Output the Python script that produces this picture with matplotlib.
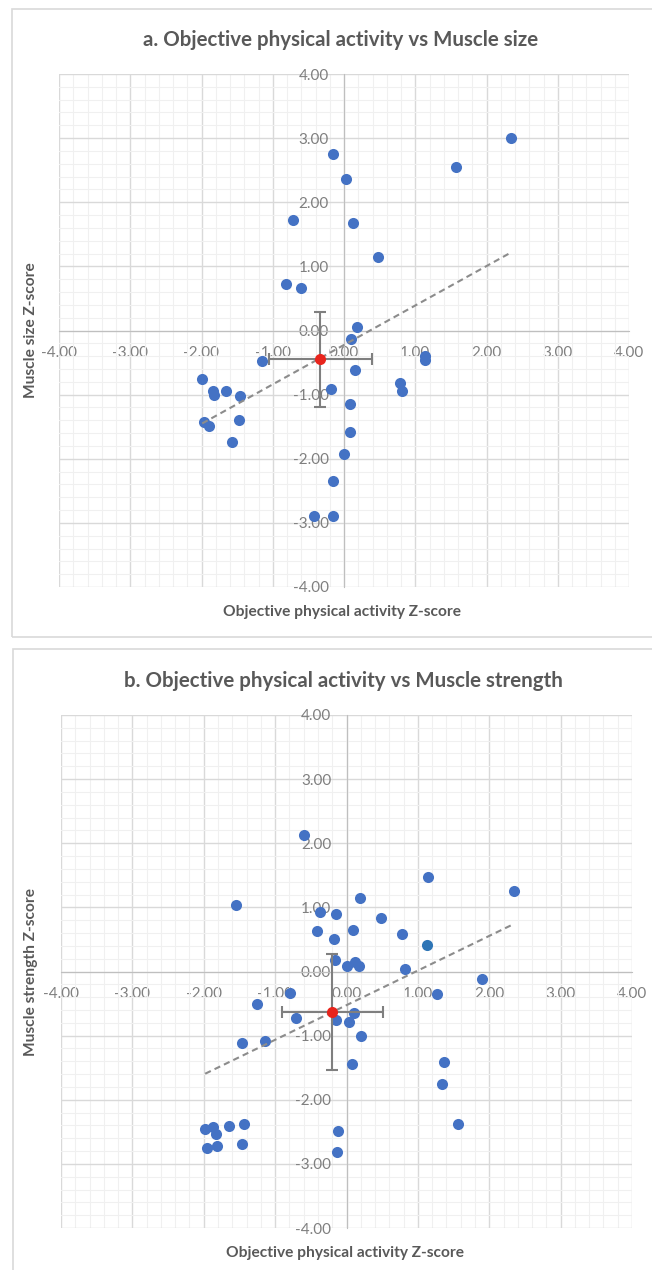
import matplotlib
matplotlib.use("Agg")
import matplotlib.pyplot as plt
from matplotlib.patches import Rectangle
from matplotlib.ticker import MultipleLocator, FormatStrFormatter
import numpy as np

plt.rcParams['font.family'] = ['Lato', 'DejaVu Sans']

# panel a: physical activity vs muscle size
pa_x_a = [2.35, 1.57, -0.16, 0.03, -0.72, 0.12, 0.48, -0.81, -0.61, 0.18, 0.10,
          -1.15, 1.13, 1.13, 0.16, -1.99, 0.79, 0.82, -0.18, -1.84, -1.82, -1.65,
          -1.46, 0.08, -1.96, -1.89, -1.48, -1.57, 0.08, 0.00, -0.16, -0.42, -0.16]
size_y_a = [3.00, 2.55, 2.76, 2.37, 1.72, 1.68, 1.15, 0.72, 0.67, 0.06, -0.13,
            -0.47, -0.40, -0.46, -0.61, -0.75, -0.82, -0.95, -0.91, -0.95, -1.01, -0.94,
            -1.02, -1.15, -1.43, -1.49, -1.39, -1.74, -1.59, -1.92, -2.34, -2.90, -2.90]
mean_a = (-0.33, -0.45)
err_a = (0.72, 0.745)        # x error, y error
trend_a = (0.615, -0.225)    # slope, intercept

# panel b: physical activity vs muscle strength
pa_x_b = [1.14, 2.34, 0.19, -1.55, -0.37, -0.15, 0.48, -0.42, 0.09, 0.78, -0.17,
          -0.16, 0.12, 0.00, 0.17, 0.82, 1.90, -0.79, 1.27, -1.26, 0.10, -0.71,
          -0.15, 0.04, 0.21, -1.47, -1.14, 0.08, 1.36, 1.34, 1.56, -1.98, -1.87,
          -1.83, -1.64, -1.44, -1.47, -1.95, -1.81, -0.12, -0.13, -0.60]
str_y_b = [1.47, 1.26, 1.15, 1.03, 0.93, 0.89, 0.84, 0.63, 0.65, 0.58, 0.50,
           0.18, 0.15, 0.09, 0.09, 0.04, -0.12, -0.34, -0.35, -0.51, -0.64, -0.72,
           -0.75, -0.78, -1.01, -1.11, -1.09, -1.44, -1.41, -1.76, -2.38, -2.46, -2.42,
           -2.54, -2.41, -2.38, -2.69, -2.76, -2.72, -2.48, -2.81, 2.13]
highlight_b = (1.13, 0.42)
mean_b = (-0.20, -0.63)
err_b = (0.71, 0.91)
trend_b = (0.54, -0.525)

BLUE = '#4472C4'
GREY_TXT = '#595959'


def draw_panel(fig, rect, box, title, ylabel, xs, ys, mean, err, trend, extra=None):
    fig.patches.append(Rectangle(box[:2], box[2], box[3], transform=fig.transFigure,
                                 fill=False, edgecolor='#D9D9D9', lw=1.2))
    ax = fig.add_axes(rect)
    ax.set_xlim(-4, 4)
    ax.set_ylim(-4, 4)
    ax.set_axisbelow(True)

    ax.xaxis.set_major_locator(MultipleLocator(1))
    ax.yaxis.set_major_locator(MultipleLocator(1))
    ax.xaxis.set_minor_locator(MultipleLocator(0.2))
    ax.yaxis.set_minor_locator(MultipleLocator(0.2))
    ax.xaxis.set_major_formatter(FormatStrFormatter('%.2f'))
    ax.yaxis.set_major_formatter(FormatStrFormatter('%.2f'))
    ax.grid(which='major', color='#D9D9D9', lw=1.0)
    ax.grid(which='minor', color='#F0F0F0', lw=0.8)

    for s in ['top', 'right']:
        ax.spines[s].set_visible(False)
    ax.spines['left'].set_position('zero')
    ax.spines['bottom'].set_position('zero')
    ax.spines['left'].set_color('#BFBFBF')
    ax.spines['bottom'].set_color('#BFBFBF')
    ax.tick_params(which='both', length=0)
    ax.tick_params(axis='x', labelsize=11, labelcolor='#7F7F7F', pad=11)
    ax.tick_params(axis='y', labelsize=11, labelcolor='#7F7F7F', pad=11)

    ax.scatter(xs, ys, s=64, color=BLUE, zorder=3, linewidths=0)
    if extra is not None:
        ax.scatter([extra[0]], [extra[1]], s=64, color='#2E75B6', zorder=3, linewidths=0)

    xx = np.array([min(xs), max(xs)])
    ax.plot(xx, trend[0] * xx + trend[1], ls=(0, (3, 2)), color='#8C8C8C', lw=1.5, zorder=4)

    ax.errorbar([mean[0]], [mean[1]], xerr=[err[0]], yerr=[err[1]], fmt='none',
                ecolor='#7F7F7F', elinewidth=1.5, capsize=4, capthick=1.5, zorder=5)
    ax.scatter([mean[0]], [mean[1]], s=64, color='#E8241C', zorder=6, linewidths=0)

    l, b, w, h = rect
    fig.text(l + w / 2 - 0.005, b + h + 0.027, title, ha='center', va='center',
             fontsize=14.8, fontweight='bold', color=GREY_TXT)
    fig.text(0.047, b + h / 2, ylabel, rotation=90, ha='center', va='center',
             fontsize=11.2, fontweight='bold', color=GREY_TXT)
    fig.text(l + w / 2 - 0.003, b - 0.0195, 'Objective physical activity Z-score',
             ha='center', va='center', fontsize=11.2, fontweight='bold', color=GREY_TXT)
    return ax


fig = plt.figure(figsize=(6.52, 12.7), dpi=100)
W, H = 652.0, 1270.0

draw_panel(fig, [59 / W, 1 - 587 / H, 570 / W, 513 / H],
           (12 / W, 1 - 637 / H, 660 / W, 628 / H),
           'a. Objective physical activity vs Muscle size', 'Muscle size Z-score',
           pa_x_a, size_y_a, mean_a, err_a, trend_a)

draw_panel(fig, [61 / W, 1 - 1228 / H, 571 / W, 513 / H],
           (13.5 / W, -0.01, 660 / W, 1 - 649 / H + 0.01),
           'b. Objective physical activity vs Muscle strength', 'Muscle strength Z-score',
           pa_x_b, str_y_b, mean_b, err_b, trend_b, extra=highlight_b)

fig.savefig('out.png', dpi=100)
